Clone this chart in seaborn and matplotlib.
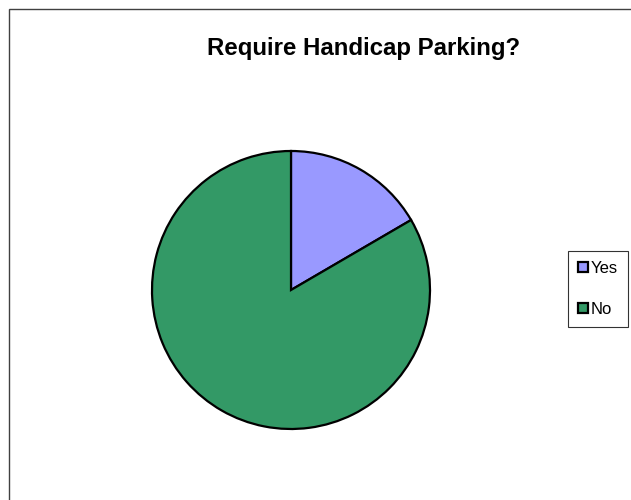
import matplotlib
matplotlib.use('Agg')
import matplotlib.pyplot as plt
import matplotlib.patches as mpatches
import seaborn as sns

# Survey answers
labels = ['Yes', 'No']
shares = [16.6, 83.4]
colors = ['#9999FF', '#339966']

sns.set_theme(style='white')
plt.rcParams['font.family'] = ['Liberation Sans', 'DejaVu Sans']
plt.rcParams['text.color'] = 'black'

fig = plt.figure(figsize=(6.31, 5), dpi=100)

# Chart area frame (only left and top edges visible)
fig.patches.append(mpatches.Rectangle((8.5 / 631, -0.1), 2, 491.5 / 500 + 0.1,
                                      transform=fig.transFigure, fill=False,
                                      edgecolor='#404040', linewidth=1))

ax = fig.add_axes([152 / 631, 71 / 500, 278 / 631, 278 / 500])
wedges, _ = ax.pie(shares, colors=colors, startangle=90, counterclock=False,
                   radius=1, wedgeprops={'edgecolor': 'black', 'linewidth': 1.6})
ax.set_xlim(-1.0, 1.0)
ax.set_ylim(-1.0, 1.0)
ax.axis('off')

fig.text(364 / 631, 1 - 48 / 500, 'Require Handicap Parking?', ha='center',
         va='center', fontsize=17.3, fontweight='bold', color='black')

leg = fig.legend(wedges, labels, loc='center', bbox_to_anchor=(598 / 631, 1 - 289 / 500),
                 fontsize=12, frameon=True, fancybox=False, handlelength=0.6,
                 handleheight=0.6, handletextpad=0.15, labelspacing=1.55,
                 borderpad=0.6, borderaxespad=0)
leg.get_frame().set_edgecolor('black')
leg.get_frame().set_linewidth(0.8)
for t in leg.get_texts():
    t.set_color('black')
for h in leg.legend_handles:
    h.set_linewidth(1.6)

fig.savefig('out.png', dpi=100)
